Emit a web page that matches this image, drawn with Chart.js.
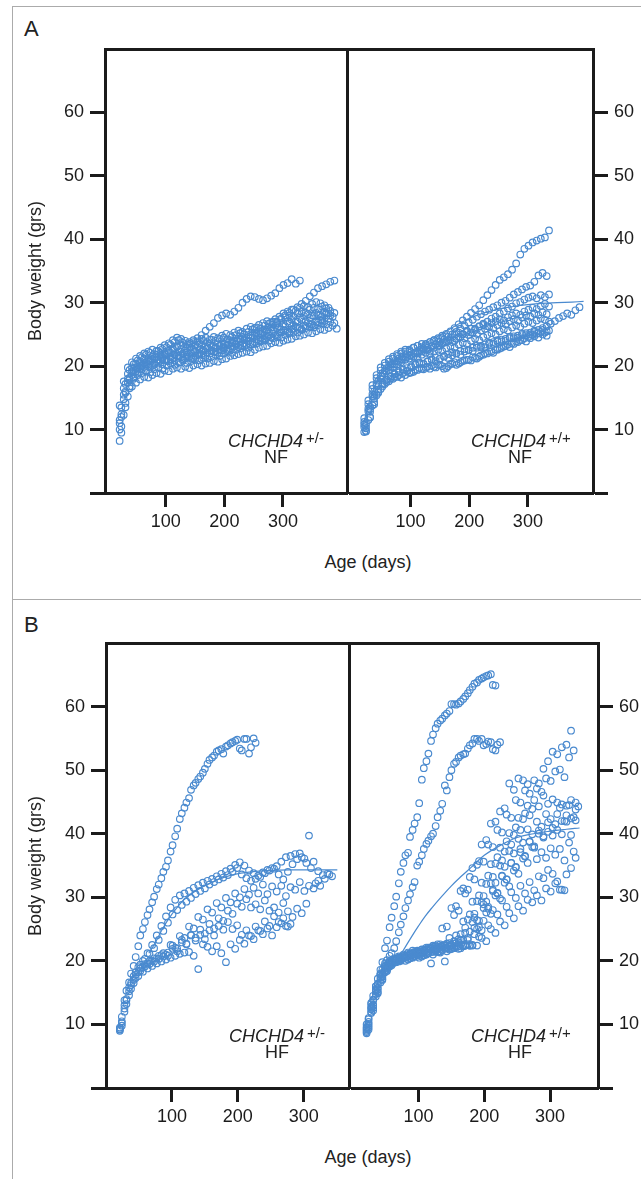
<!DOCTYPE html>
<html>
<head>
<meta charset="utf-8">
<script src="https://cdn.jsdelivr.net/npm/chart.js@4.4.1/dist/chart.umd.min.js"></script>
<style>
  html, body { margin: 0; padding: 0; background: #fff; }
  body { width: 641px; height: 1179px; position: relative; overflow: hidden;
         font-family: "Liberation Sans", Arial, sans-serif; color: #222; }
  canvas { position: absolute; }
  .box { position: absolute; border: 1.5px solid #ababab; }
  .txt { position: absolute; white-space: nowrap; font-size: 18px; line-height: 18px; }
  .panel { position: absolute; font-size: 22px; line-height: 22px; }
  .ytitle { position: absolute; white-space: nowrap; font-size: 18px; line-height: 18px;
            transform: translate(-50%, -50%) rotate(-90deg); }
  .xtitle { position: absolute; white-space: nowrap; font-size: 18px; line-height: 18px;
            transform: translate(-50%, -50%); }
  .geno i { font-style: italic; }
  .geno span { font-size: 15px; position: relative; top: -4px; margin-left: 3px; }
</style>
</head>
<body>
<div class="box" style="left:12px; top:6px; width:800px; height:592px;"></div>
<div class="box" style="left:12px; top:599px; width:800px; height:700px;"></div>

<div class="panel" style="left:24px; top:18px;">A</div>
<div class="panel" style="left:24px; top:614px;">B</div>

<canvas id="cA1" width="353" height="514" style="left:0px; top:29px;"></canvas>
<canvas id="cA2" width="296" height="514" style="left:345px; top:29px;"></canvas>
<canvas id="cB1" width="355" height="515" style="left:0px; top:623px;"></canvas>
<canvas id="cB2" width="299" height="515" style="left:347px; top:623px;"></canvas>

<div class="ytitle" style="left:35px; top:271px;">Body weight (grs)</div>
<div class="ytitle" style="left:35px; top:866px;">Body weight (grs)</div>
<div class="xtitle" style="left:368px; top:562px;">Age (days)</div>
<div class="xtitle" style="left:368px; top:1157px;">Age (days)</div>

<div class="txt geno" style="left:228px; top:432px;"><i>CHCHD4</i><span>+/-</span></div>
<div class="txt" style="left:264px; top:448px;">NF</div>
<div class="txt geno" style="left:471px; top:432px;"><i>CHCHD4</i><span>+/+</span></div>
<div class="txt" style="left:508px; top:448px;">NF</div>
<div class="txt geno" style="left:229px; top:1027px;"><i>CHCHD4</i><span>+/-</span></div>
<div class="txt" style="left:265px; top:1043px;">HF</div>
<div class="txt geno" style="left:471px; top:1027px;"><i>CHCHD4</i><span>+/+</span></div>
<div class="txt" style="left:508px; top:1043px;">HF</div>

<script>
// weighing days (two cohorts weighed on different weekdays)
const ages1 = [21, 28, 35, 42, 49, 56, 63, 70, 77, 84, 91, 98, 105, 112, 119, 126, 133, 140, 147, 154,
  161, 168, 175, 182, 189, 196, 203, 210, 217, 224, 231, 238, 245, 252, 259, 266, 273, 280, 287, 294,
  301, 308, 315, 322, 329, 336, 343, 350, 357, 364, 371, 378, 385, 392];
const ages2 = [24, 31, 38, 45, 52, 59, 66, 73, 80, 87, 94, 101, 108, 115, 122, 129, 136, 143, 150, 157,
  164, 171, 178, 185, 192, 199, 206, 213, 220, 227, 234, 241, 248, 255, 262, 269, 276, 283, 290, 297,
  304, 311, 318, 325, 332, 339, 346, 353, 360, 367, 374, 381, 388];

const xTicks = [100, 200, 300];

// ---- A, CHCHD4 +/- NF ----
const nfHet1 = [8.2, 12.3, 15.2, 16.8, 17.4, 17.9, 18.3, 18.2, 18.6, 18.9,
  18.8, 19.3, 19.2, 19.6, 19.8, 19.6, 19.9, 19.7, 20.1, 20.3,
  20.1, 20.4, 20.5, 20.8, 20.7, 21.1, 21.2, 21.6, 21.7, 21.9,
  22.1, 22.3, 22.2, 22.6, 22.9, 23.1, 23.2, 23.6, 23.8, 23.7,
  24.0, 24.2, 24.3, 24.7, 24.8, 25.0, 25.3, 25.2, 25.5, 25.8,
  25.7, 26.0, 26.4, 25.9];
const nfHet2 = [10.5, 14.2, 16.8, 18.0, 18.6, 18.9, 19.2, 19.0, 19.5, 19.8,
  19.6, 20.1, 20.4, 20.2, 20.6, 20.9, 20.5, 20.8, 21.0, 20.9,
  21.3, 21.2, 21.5, 21.8, 21.6, 22.0, 22.3, 22.1, 22.6, 22.8,
  23.1, 22.9, 23.4, 23.6, 23.9, 24.1, 24.0, 24.4, 24.6, 24.5,
  24.9, 25.2, 25.4, 25.3, 25.7, 26.0, 26.2, 26.1, 26.5, 26.8,
  26.6, 27.0, 26.8];
const nfHet3 = [10.0, 14.8, 17.4, 18.6, 19.2, 19.6, 19.9, 20.3, 20.1, 20.6,
  20.9, 21.0, 20.8, 21.3, 21.6, 21.4, 21.2, 21.5, 21.3, 21.7,
  21.9, 21.6, 22.0, 22.3, 22.1, 22.5, 22.4, 22.8, 23.1, 23.0,
  23.3, 23.5, 23.4, 23.8, 24.1, 24.3, 24.6, 24.5, 24.9, 25.3,
  25.6, 25.4, 25.8, 26.2, 26.0, 26.4, 26.8, 26.6, 27.0, 27.3,
  27.1, 27.5, 27.8];
const nfHet4 = [12.4, 16.0, 18.2, 19.3, 19.8, 20.2, 20.6, 20.9, 21.2, 21.0,
  21.5, 21.8, 22.1, 21.9, 22.3, 22.0, 21.8, 22.2, 22.4, 22.1,
  22.6, 22.8, 22.5, 22.9, 23.2, 23.0, 23.4, 23.7, 23.5, 23.9,
  24.2, 24.0, 24.5, 24.8, 25.1, 24.9, 25.4, 25.7, 26.0, 25.8,
  26.3, 26.7, 26.5, 27.0, 27.3, 27.1, 27.6, 27.9, 28.1, 27.8,
  28.3, 28.0, 28.4];
const nfHet5 = [11.5, 16.5, 18.8, 19.8, 20.4, 20.8, 21.2, 21.0, 21.5, 21.8,
  22.1, 21.9, 22.4, 22.8, 23.1, 22.7, 22.5, 22.9, 22.6, 23.0,
  23.3, 23.1, 23.5, 23.2, 23.6, 23.4, 23.8, 24.1, 23.9, 24.3,
  24.6, 24.4, 24.8, 25.2, 25.5, 25.3, 25.7, 26.1, 26.4, 26.2,
  26.7, 27.0, 27.3, 27.1, 27.6, 27.9, 28.2, 28.0, 28.4, 28.1,
  28.5, 28.3];
const nfHet6 = [13.5, 17.2, 19.4, 20.3, 20.9, 21.4, 21.8, 22.1, 21.9, 22.4,
  22.7, 23.0, 23.4, 23.8, 24.1, 23.7, 23.4, 23.6, 23.3, 23.7,
  24.0, 23.8, 24.2, 24.0, 24.3, 24.5, 24.2, 24.6, 24.9, 25.2,
  25.0, 25.4, 25.8, 26.1, 25.9, 26.4, 26.7, 27.0, 26.8, 27.3,
  27.7, 28.0, 27.8, 28.3, 28.6, 28.4, 28.9, 29.2, 29.0, 29.4,
  29.1, 28.7];
const nfHet7 = [13.8, 17.6, 19.8, 20.6, 21.2, 21.6, 22.0, 22.3, 22.6, 22.4,
  22.9, 23.3, 23.6, 24.1, 24.5, 24.3, 24.0, 23.8, 24.1, 23.9,
  24.3, 24.5, 24.2, 24.6, 24.4, 24.8, 25.1, 24.9, 25.3, 25.6,
  25.4, 25.9, 26.2, 26.0, 26.5, 26.8, 27.1, 26.9, 27.4, 27.8,
  28.3, 28.6, 28.9, 28.7, 29.2, 29.5, 29.3, 29.8, 30.1, 29.9,
  29.6, 29.2];
const nfHet8 = [9.5, 13.5, 16.5, 18.2, 19.0, 19.5, 19.3, 19.8, 20.2, 20.5,
  20.3, 20.8, 21.1, 20.9, 21.3, 21.1, 21.5, 21.2, 21.6, 21.9,
  21.7, 22.1, 22.4, 22.2, 22.6, 22.8, 22.6, 23.1, 23.4, 23.2,
  23.6, 23.9, 23.7, 24.2, 24.5, 24.3, 24.8, 25.1, 24.9, 25.3,
  25.6, 25.4, 25.9, 26.1, 25.8, 26.3, 26.6, 26.4, 26.9, 27.2];
const nfHet9 = [11.0, 15.5, 18.0, 19.2, 19.7, 20.1, 20.5, 20.8, 21.1, 21.4,
  21.7, 21.9, 22.2, 22.6, 23.0, 23.3, 23.1, 23.5, 23.8, 24.4,
  24.9, 25.6, 26.2, 26.8, 27.6, 28.0, 28.3, 28.1, 28.6, 29.2,
  30.0, 30.6, 31.0, 30.9, 30.6, 30.4, 30.7, 31.1, 31.5, 32.3,
  32.8, 33.1, 33.7, 33.0, 33.5];
const nfHet10 = [12.0, 15.8, 17.9, 19.0, 19.6, 20.0, 20.3, 20.7, 20.5, 21.0,
  21.3, 21.1, 21.5, 21.8, 21.6, 21.9, 22.2, 22.0, 22.3, 22.6,
  22.4, 22.8, 23.0, 22.8, 23.2, 23.5, 23.3, 23.7, 24.0, 24.3,
  24.1, 24.6, 24.9, 25.3, 25.2, 25.7, 26.1, 26.6, 27.0, 27.5,
  28.0, 28.4, 28.9, 29.3, 29.8, 30.3, 31.0, 31.6, 32.3, 32.6,
  32.9, 33.3, 33.5];

// ---- A, CHCHD4 +/+ NF ----
const nfWt1 = [9.6, 11.5, 13.8, 15.4, 16.4, 17.2, 17.6, 18.0, 18.3, 18.2,
  18.6, 18.9, 19.1, 19.4, 19.6, 19.8, 19.6, 19.9, 20.2, 20.0,
  19.7, 20.3, 20.6, 20.4, 20.8, 21.0, 20.9, 21.3, 21.5, 21.8,
  22.0, 22.3, 22.6, 22.8, 23.1, 23.4, 23.6, 23.9, 24.1, 24.4,
  24.6, 24.9, 25.1, 25.4, 25.3, 25.6];
const nfWt2 = [10.2, 12.8, 14.9, 16.3, 17.3, 17.9, 18.4, 18.8, 19.2, 19.5,
  19.3, 19.8, 20.2, 20.5, 20.3, 20.7, 21.0, 20.8, 21.2, 21.5,
  21.3, 21.7, 22.0, 21.8, 22.3, 22.6, 22.4, 22.9, 23.2, 23.0,
  23.5, 23.8, 24.1, 23.9, 24.3, 24.6, 24.4, 24.8, 25.1, 24.9,
  25.3, 25.6, 25.2, 25.7, 25.5];
const nfWt3 = [10.4, 12.9, 15.2, 16.9, 18.0, 18.8, 19.4, 19.9, 20.3, 20.6,
  21.0, 21.2, 21.5, 21.3, 21.8, 22.1, 21.9, 22.3, 22.6, 22.4,
  22.8, 23.1, 22.9, 23.4, 23.7, 23.5, 24.0, 24.3, 24.1, 24.6,
  24.9, 25.2, 25.0, 25.5, 25.8, 25.6, 26.1, 26.4, 26.2, 26.7,
  27.0, 26.8, 27.2, 27.5, 27.3, 27.0];
const nfWt4 = [11.0, 13.6, 16.0, 17.7, 18.9, 19.7, 20.3, 20.8, 21.2, 21.5,
  21.9, 22.2, 22.0, 22.5, 22.8, 22.6, 23.1, 23.4, 23.2, 23.7,
  24.0, 23.8, 24.3, 24.6, 24.4, 24.9, 25.3, 25.1, 25.6, 25.9,
  26.2, 26.0, 26.5, 26.8, 26.6, 27.1, 27.4, 27.2, 27.7, 28.0,
  27.8, 28.3, 28.1, 28.5, 28.2];
const nfWt5 = [11.8, 14.6, 17.0, 18.6, 19.8, 20.5, 21.1, 21.5, 21.9, 22.3,
  22.6, 22.4, 22.9, 23.2, 23.5, 23.3, 23.8, 24.1, 23.9, 24.4,
  24.7, 24.5, 25.0, 25.3, 25.1, 25.6, 25.9, 25.7, 26.2, 26.5,
  26.3, 26.8, 27.1, 27.4, 27.2, 27.7, 28.0, 28.3, 28.1, 28.6,
  28.9, 29.2, 29.0, 29.5, 29.8, 29.4];
const nfWt6 = [9.8, 11.9, 14.0, 15.8, 16.8, 17.5, 18.0, 18.3, 18.6, 18.9,
  19.2, 19.0, 19.4, 19.7, 19.5, 19.9, 20.1, 19.8, 20.2, 19.6,
  20.0, 20.4, 20.2, 20.6, 20.9, 21.0, 21.4, 21.2, 21.7, 22.0,
  22.3, 22.1, 22.6, 22.9, 23.2, 23.0, 23.5, 23.8, 24.1, 23.9,
  24.4, 24.7, 24.5, 25.0, 24.8];
const nfWt7 = [10.8, 13.3, 15.6, 17.3, 18.5, 19.3, 19.9, 20.4, 20.8, 21.1,
  21.4, 21.7, 21.5, 22.0, 22.3, 22.6, 22.4, 22.9, 23.2, 23.6,
  23.9, 24.2, 24.0, 24.6, 25.0, 25.4, 25.3, 25.9, 26.3, 26.7,
  27.0, 27.5, 27.8, 28.3, 28.6, 29.1, 29.4, 29.9, 30.1, 30.5,
  30.8, 31.0, 30.7, 31.2, 30.9, 31.3];
const nfWt8 = [11.2, 14.0, 16.4, 18.1, 19.3, 20.1, 20.7, 21.2, 21.6, 22.0,
  22.3, 22.6, 22.9, 23.2, 23.0, 23.5, 23.8, 24.1, 24.4, 24.8,
  25.1, 25.5, 26.0, 26.6, 27.2, 27.8, 28.4, 29.0, 29.6, 30.4,
  31.2, 32.0, 32.8, 33.6, 34.0, 34.5, 35.2, 36.2, 37.6, 38.5,
  39.0, 39.5, 39.8, 40.1, 40.3, 41.4];
const nfWt9 = [10.6, 13.2, 15.5, 17.2, 18.4, 19.2, 19.8, 20.3, 20.7, 21.0,
  21.4, 21.7, 22.0, 22.3, 22.6, 22.9, 23.2, 23.5, 23.8, 24.2,
  24.6, 25.0, 25.4, 25.9, 26.4, 26.9, 27.3, 27.8, 28.2, 28.6,
  28.9, 29.3, 29.6, 30.0, 30.3, 30.8, 31.3, 31.7, 32.1, 32.5,
  32.7, 33.3, 34.3, 34.7, 34.2];
const nfWt10 = [9.7, 12.0, 14.3, 16.0, 17.1, 17.8, 18.3, 18.7, 19.0, 19.4,
  19.7, 20.0, 20.3, 20.6, 20.4, 20.8, 21.1, 21.4, 21.2, 21.6,
  21.9, 22.2, 22.0, 22.4, 22.7, 22.5, 22.9, 23.2, 23.0, 23.4,
  23.7, 23.5, 23.9, 24.2, 24.0, 24.4, 24.7, 24.5, 24.9, 25.2,
  25.0, 25.4, 25.7, 26.0, 26.3, 26.7, 27.1, 27.6, 27.9, 28.3,
  28.1, 28.8, 29.3];
const fitDaysNfWt = [20, 30, 40, 50, 60, 80, 100, 125, 150, 175, 200, 225, 250, 275, 300, 325, 350, 375, 395];
const fitNfWt = [11.0, 14.5, 17.0, 18.6, 19.7, 21.2, 22.3, 23.6, 24.9, 26.3, 27.5, 28.4, 29.0, 29.4, 29.7, 29.9, 30.0, 30.1, 30.2];

// ---- B, CHCHD4 +/- HF ----
const hfHet1a = [9.3, 13.8, 16.6, 19.2, 22.3, 25.0, 27.2, 29.2, 31.3, 33.0,
  34.8, 37.2, 39.6, 42.3, 44.1, 45.6, 47.6, 48.6, 49.6, 51.0,
  52.0, 52.9, 53.3, 53.7, 54.2, 54.6, 53.4, 54.9, 52.6, 55.0];
const hfHet1b = [11.2, 15.3, 18.0, 20.6, 24.0, 26.1, 28.1, 30.1, 32.0, 34.0,
  35.8, 38.2, 40.8, 43.2, 44.9, 46.9, 48.0, 49.0, 50.2, 51.6,
  52.3, 53.1, 52.6, 53.9, 54.4, 54.8, 53.1, 54.9, 53.6, 54.3];
const hfHet2 = [9.5, 13.0, 15.8, 17.6, 19.0, 20.0, 21.2, 22.5, 24.0, 25.5,
  27.0, 28.4, 29.6, 30.3, 30.6, 31.0, 31.5, 31.9, 32.3, 32.6,
  32.9, 33.3, 33.7, 34.1, 34.5, 35.1, 35.5, 35.0, 34.2, 33.8,
  33.4, 33.9, 34.3, 34.6, 34.9, 35.6, 36.3, 36.5, 36.8, 36.9,
  36.1, 39.7, 35.6, 34.1, 33.5, 33.7, 33.3];
const hfHet3 = [10.5, 14.0, 16.5, 18.2, 19.4, 20.3, 21.1, 22.0, 23.3, 24.7,
  26.0, 27.3, 28.0, 28.8, 29.3, 29.9, 30.5, 31.0, 31.4, 32.0,
  32.4, 32.8, 33.1, 33.5, 34.0, 34.6, 33.6, 33.0, 32.6, 32.9,
  33.2, 33.8, 34.2, 34.5, 33.6, 32.8, 34.0, 35.2, 36.0, 36.3,
  35.4, 34.6, 32.2, 31.8, 32.9, 33.6];
const hfHet4 = [9.0, 12.5, 15.2, 17.0, 18.2, 19.0, 19.6, 20.0, 20.4, 20.9,
  21.0, 22.5, 22.1, 23.9, 23.6, 25.4, 25.1, 26.9, 26.5, 28.1,
  27.6, 29.1, 28.4, 29.9, 29.2, 30.6, 30.0, 31.3, 30.4, 31.5,
  30.6, 32.0, 30.5, 31.7, 30.9, 31.8, 30.2, 31.6, 31.2, 32.4,
  31.0, 31.8, 31.4, 32.6];
const hfHet5 = [9.8, 13.2, 15.6, 17.3, 18.4, 19.1, 19.5, 19.9, 20.3, 20.7,
  20.8, 21.9, 21.5, 22.9, 22.6, 24.1, 23.6, 24.9, 24.3, 25.8,
  25.1, 26.7, 26.3, 27.9, 27.4, 29.0, 28.5, 29.7, 28.4, 28.9,
  28.1, 29.5, 27.9, 28.4, 27.6, 29.1, 27.8, 26.9, 28.2, 27.5,
  29.0];
const hfHet6 = [9.2, 12.0, 14.6, 16.5, 17.6, 18.3, 18.8, 19.2, 19.6, 19.9,
  20.2, 20.5, 20.8, 21.1, 21.3, 21.4, 20.8, 18.7, 22.6, 22.2,
  21.5, 22.3, 21.2, 19.8, 22.6, 21.9, 23.3, 22.7, 24.0, 23.4,
  24.8, 24.2, 25.1, 24.0, 25.3, 25.9, 25.5, 25.8];
const hfHet7 = [10.2, 13.8, 16.2, 17.8, 18.8, 19.5, 20.0, 20.4, 20.8, 21.2,
  21.3, 22.4, 21.9, 23.3, 22.7, 24.0, 23.2, 24.1, 23.4, 24.8,
  24.0, 25.5, 24.9, 26.1, 25.0, 25.6, 24.1, 24.8, 23.9, 25.4,
  24.7, 26.2, 25.5, 27.0, 26.1, 26.7, 25.4];
const fitDaysHfHet = [65, 75, 85, 95, 108, 120, 135, 150, 170, 195, 220, 246, 280, 320, 351];
const fitHfHet = [21.2, 22.9, 24.9, 26.6, 28.4, 29.8, 30.9, 31.8, 32.8, 33.6, 34.0, 34.2, 34.3, 34.3, 34.3];

// ---- B, CHCHD4 +/+ HF ----
const hfWt1a = [9.6, 13.2, 16.0, 18.6, 22.0, 25.3, 28.6, 32.2, 35.4, 37.0,
  40.6, 42.6, 48.5, 51.4, 54.6, 56.6, 57.8, 58.6, 59.3, 60.4,
  60.5, 61.2, 62.1, 63.1, 63.8, 64.4, 64.8, 65.1, 63.3];
const hfWt1b = [11.0, 14.5, 17.2, 19.8, 23.2, 26.8, 30.1, 34.0, 36.6, 39.5,
  41.6, 44.8, 50.3, 52.6, 55.6, 57.3, 58.1, 58.9, 60.4, 60.3,
  60.8, 61.6, 62.6, 63.6, 64.2, 64.6, 64.9, 63.4];
const hfWt2a = [9.2, 12.6, 15.4, 17.8, 19.6, 20.8, 22.0, 24.5, 27.0, 29.5,
  31.6, 35.0, 36.6, 38.4, 39.6, 41.2, 43.6, 47.6, 48.9, 51.0,
  52.0, 52.5, 53.4, 54.2, 54.9, 54.9, 54.1, 54.4, 53.1, 54.4];
const hfWt2b = [10.4, 13.8, 16.4, 18.6, 20.1, 21.2, 23.1, 25.7, 28.3, 30.5,
  32.4, 35.6, 37.6, 38.9, 40.0, 42.6, 44.7, 46.8, 50.0, 51.3,
  52.3, 52.6, 53.9, 54.9, 54.6, 53.9, 54.5, 53.3, 54.0];
const hfWt3 = [8.6, 12.0, 14.8, 17.0, 18.5, 19.4, 20.0, 20.3, 20.6, 20.8,
  21.0, 21.3, 21.5, 21.8, 22.0, 22.3, 22.1, 22.5, 23.6, 27.2,
  27.9, 31.4, 31.2, 34.6, 35.1, 38.3, 39.0, 41.6, 41.9, 43.5,
  44.0, 47.9, 46.9, 48.7, 48.4, 47.8];
const hfWt4 = [9.8, 12.9, 15.5, 17.5, 18.8, 19.6, 20.1, 20.4, 20.7, 21.0,
  21.2, 21.5, 21.8, 22.1, 22.4, 22.6, 25.1, 25.4, 28.3, 28.6,
  31.0, 30.6, 33.2, 32.8, 35.7, 35.6, 38.3, 37.9, 40.6, 40.2,
  43.0, 42.5, 45.3, 44.9, 46.8, 46.3, 48.4, 47.9, 50.2, 51.4,
  52.9, 52.5, 53.6, 54.0, 56.2];
const hfWt5 = [9.0, 12.4, 15.2, 17.4, 18.9, 19.7, 20.2, 20.5, 20.8, 21.1,
  21.3, 21.6, 21.4, 21.8, 22.1, 21.9, 22.3, 22.0, 22.4, 22.7,
  23.4, 26.2, 26.5, 29.3, 29.4, 32.3, 32.1, 35.2, 35.3, 37.8,
  37.2, 40.1, 39.8, 42.5, 42.3, 44.4, 43.9, 47.1, 46.6, 48.7,
  48.3, 49.8, 50.1, 48.9, 52.0, 53.1];
const hfWt6 = [10.8, 13.9, 16.3, 18.1, 19.2, 19.9, 20.3, 20.0, 20.5, 20.9,
  21.1, 20.8, 21.3, 21.6, 21.4, 21.9, 22.2, 22.0, 22.5, 22.8,
  24.2, 24.4, 27.3, 27.4, 30.3, 30.2, 33.4, 33.2, 36.3, 35.8,
  38.8, 38.3, 41.0, 40.6, 43.2, 42.9, 45.3, 44.3, 46.0, 44.7,
  45.4, 44.9, 44.6, 42.9, 45.3, 43.8];
const hfWt7 = [9.4, 12.8, 15.6, 17.8, 19.1, 19.8, 20.1, 19.9, 20.4, 20.7,
  20.5, 20.9, 21.2, 21.0, 21.4, 21.7, 21.5, 21.9, 22.2, 22.0,
  22.3, 22.5, 23.3, 26.1, 26.4, 29.2, 29.3, 32.2, 32.3, 35.0,
  34.8, 37.3, 36.9, 39.2, 38.6, 40.7, 39.9, 41.9, 41.1, 43.1,
  42.3, 41.5, 44.1, 42.0, 44.5, 42.6, 44.3];
const hfWt8 = [9.2, 12.2, 14.9, 17.0, 18.4, 19.3, 19.8, 20.2, 20.0, 20.4,
  20.7, 20.5, 20.9, 21.2, 21.0, 21.4, 21.7, 21.5, 21.9, 22.2,
  22.0, 22.4, 22.4, 25.2, 25.3, 28.3, 28.2, 31.0, 30.6, 33.3,
  32.8, 35.4, 34.8, 37.6, 36.5, 38.7, 37.8, 40.0, 39.4, 40.3,
  39.7, 40.6, 39.9, 41.9, 39.8, 42.1];
const hfWt9 = [10.0, 13.4, 16.0, 18.0, 19.3, 20.0, 20.4, 20.7, 21.0, 21.3,
  21.6, 21.4, 21.8, 22.1, 21.9, 22.3, 22.6, 22.4, 22.8, 23.1,
  22.9, 23.3, 23.6, 22.5, 25.0, 24.8, 27.6, 27.4, 30.3, 29.8,
  32.3, 31.7, 34.2, 33.7, 36.1, 35.4, 37.9, 36.0, 37.1, 36.2,
  37.7, 36.7, 37.6, 35.8, 38.6, 37.2];
const hfWt10 = [9.5, 12.6, 15.1, 17.2, 18.6, 19.5, 20.0, 20.3, 20.6, 20.4,
  20.8, 21.1, 20.9, 21.3, 21.6, 21.4, 21.8, 22.1, 21.9, 22.3,
  22.6, 22.4, 22.4, 24.2, 23.8, 26.3, 25.6, 28.0, 27.3, 29.5,
  28.5, 30.8, 29.9, 31.8, 30.6, 32.4, 31.1, 33.3, 33.0, 34.3,
  33.7, 32.5, 31.2, 33.6, 34.6, 36.2];
const hfWt11 = [8.8, 11.8, 14.4, 16.6, 18.2, 19.1, 19.7, 20.1, 20.4, 20.2,
  20.6, 20.9, 20.7, 21.1, 19.6, 21.5, 21.3, 19.9, 21.8, 22.1,
  21.9, 22.3, 22.6, 22.4, 22.4, 23.6, 23.1, 25.0, 24.4, 26.2,
  25.6, 27.5, 26.7, 28.6, 27.9, 29.6, 29.2, 30.3, 29.5, 31.4,
  30.9, 32.2, 31.2, 31.1];
const hfWt12 = [10.1, 13.1, 15.8, 17.7, 18.9, 19.7, 20.1, 20.5, 20.8, 21.1,
  21.4, 21.2, 21.6, 21.9, 22.2, 22.0, 22.4, 22.7, 22.5, 24.0,
  23.3, 25.2, 24.6, 26.8, 26.3, 28.9, 28.5, 31.2, 30.7, 33.4,
  32.8, 35.4, 34.7, 37.1, 36.4, 38.8, 38.0, 40.5, 39.6, 41.8,
  40.9, 43.1, 42.0, 44.4, 42.4, 44.9];
const fitDaysHfWt = [70, 80, 90, 100, 110, 120, 135, 150, 165, 180, 200, 225, 250, 275, 300, 325, 345];
const fitHfWt = [20.5, 22.2, 23.9, 25.5, 27.0, 28.3, 30.1, 31.8, 33.3, 34.7, 36.6, 38.2, 39.4, 40.0, 40.4, 40.7, 40.9];

const dotColor = 'rgb(74, 138, 207)';
const inkColor = '#1b1b1b';
const tickFont = { family: 'Liberation Sans', size: 18 };

function toPoints(days, weights) {
  return weights.map((w, i) => ({ x: days[i], y: w }));
}

function makeChart(id, side, xMin, xMax, mice, fit) {
  const datasets = mice.map(m => ({
    data: toPoints(m[0], m[1]),
    showLine: false,
    pointStyle: 'circle',
    pointRadius: 3.3,
    pointBorderWidth: 1.15,
    pointBorderColor: dotColor,
    pointBackgroundColor: 'rgba(0,0,0,0)'
  }));
  if (fit) {
    datasets.unshift({
      data: toPoints(fit[0], fit[1]),
      showLine: true,
      pointRadius: 0,
      borderColor: dotColor,
      borderWidth: 1.2,
      tension: 0.4,
      fill: false
    });
  }
  const left = side === 'left';
  const frame = { display: true, width: 3, color: inkColor };
  return new Chart(document.getElementById(id), {
    type: 'scatter',
    data: { datasets },
    options: {
      responsive: false,
      animation: false,
      events: [],
      layout: { padding: { top: 20, bottom: 0, left: left ? 0 : 4, right: left ? 4 : 0 } },
      plugins: { legend: { display: false }, tooltip: { enabled: false } },
      scales: {
        x: {
          type: 'linear', position: 'bottom', min: xMin, max: xMax,
          afterBuildTicks: s => { s.ticks = xTicks.map(v => ({ value: v })); },
          afterFit: s => { s.height = 50; },
          border: frame,
          grid: { drawOnChartArea: false, drawTicks: true, tickLength: 14, tickWidth: 3, tickColor: inkColor },
          ticks: { font: tickFont, color: inkColor, padding: 4, maxRotation: 0, autoSkip: false }
        },
        xTop: {
          type: 'linear', position: 'top', min: xMin, max: xMax,
          afterFit: s => { s.height = 0; },
          border: frame,
          grid: { drawOnChartArea: false, drawTicks: false },
          ticks: { display: false }
        },
        y: {
          type: 'linear', position: side, min: 0, max: 70,
          afterFit: s => { s.width = left ? (id === 'cB1' ? 106 : 105) : 48; },
          border: frame,
          grid: {
            drawOnChartArea: false, drawTicks: true, tickLength: 15, tickWidth: 3,
            tickColor: c => (c.tick && c.tick.value === 70) ? 'rgba(0,0,0,0)' : inkColor
          },
          ticks: {
            stepSize: 10, font: tickFont, color: inkColor, padding: 6,
            callback: v => (v === 0 || v === 70) ? '' : v
          }
        },
        // divider between the two halves is drawn once, by the left chart
        yEdge: {
          type: 'linear', position: left ? 'right' : 'left', min: 0, max: 70,
          afterFit: s => { s.width = 0; },
          border: { display: left, width: 3, color: inkColor },
          grid: { drawOnChartArea: false, drawTicks: false },
          ticks: { display: false }
        }
      }
    }
  });
}

makeChart('cA1', 'left', -4, 411, [
  [ages1, nfHet1], [ages2, nfHet2], [ages1, nfHet3], [ages2, nfHet4], [ages1, nfHet5],
  [ages2, nfHet6], [ages1, nfHet7], [ages2, nfHet8], [ages1, nfHet9], [ages2, nfHet10]
], null);

makeChart('cA2', 'right', -3, 411, [
  [ages1, nfWt1], [ages2, nfWt2], [ages1, nfWt3], [ages2, nfWt4], [ages1, nfWt5],
  [ages2, nfWt6], [ages1, nfWt7], [ages1, nfWt8], [ages2, nfWt9], [ages2, nfWt10]
], [fitDaysNfWt, fitNfWt]);

makeChart('cB1', 'left', 0, 370, [
  [ages1, hfHet1a], [ages2, hfHet1b], [ages1, hfHet2], [ages2, hfHet3], [ages1, hfHet4],
  [ages2, hfHet5], [ages1, hfHet6], [ages2, hfHet7]
], [fitDaysHfHet, fitHfHet]);

makeChart('cB2', 'right', -1, 373, [
  [ages1, hfWt1a], [ages2, hfWt1b], [ages1, hfWt2a], [ages2, hfWt2b], [ages1, hfWt3],
  [ages2, hfWt4], [ages1, hfWt5], [ages2, hfWt6], [ages1, hfWt7], [ages2, hfWt8],
  [ages1, hfWt9], [ages2, hfWt10], [ages1, hfWt11], [ages2, hfWt12]
], [fitDaysHfWt, fitHfWt]);
</script>
</body>
</html>
